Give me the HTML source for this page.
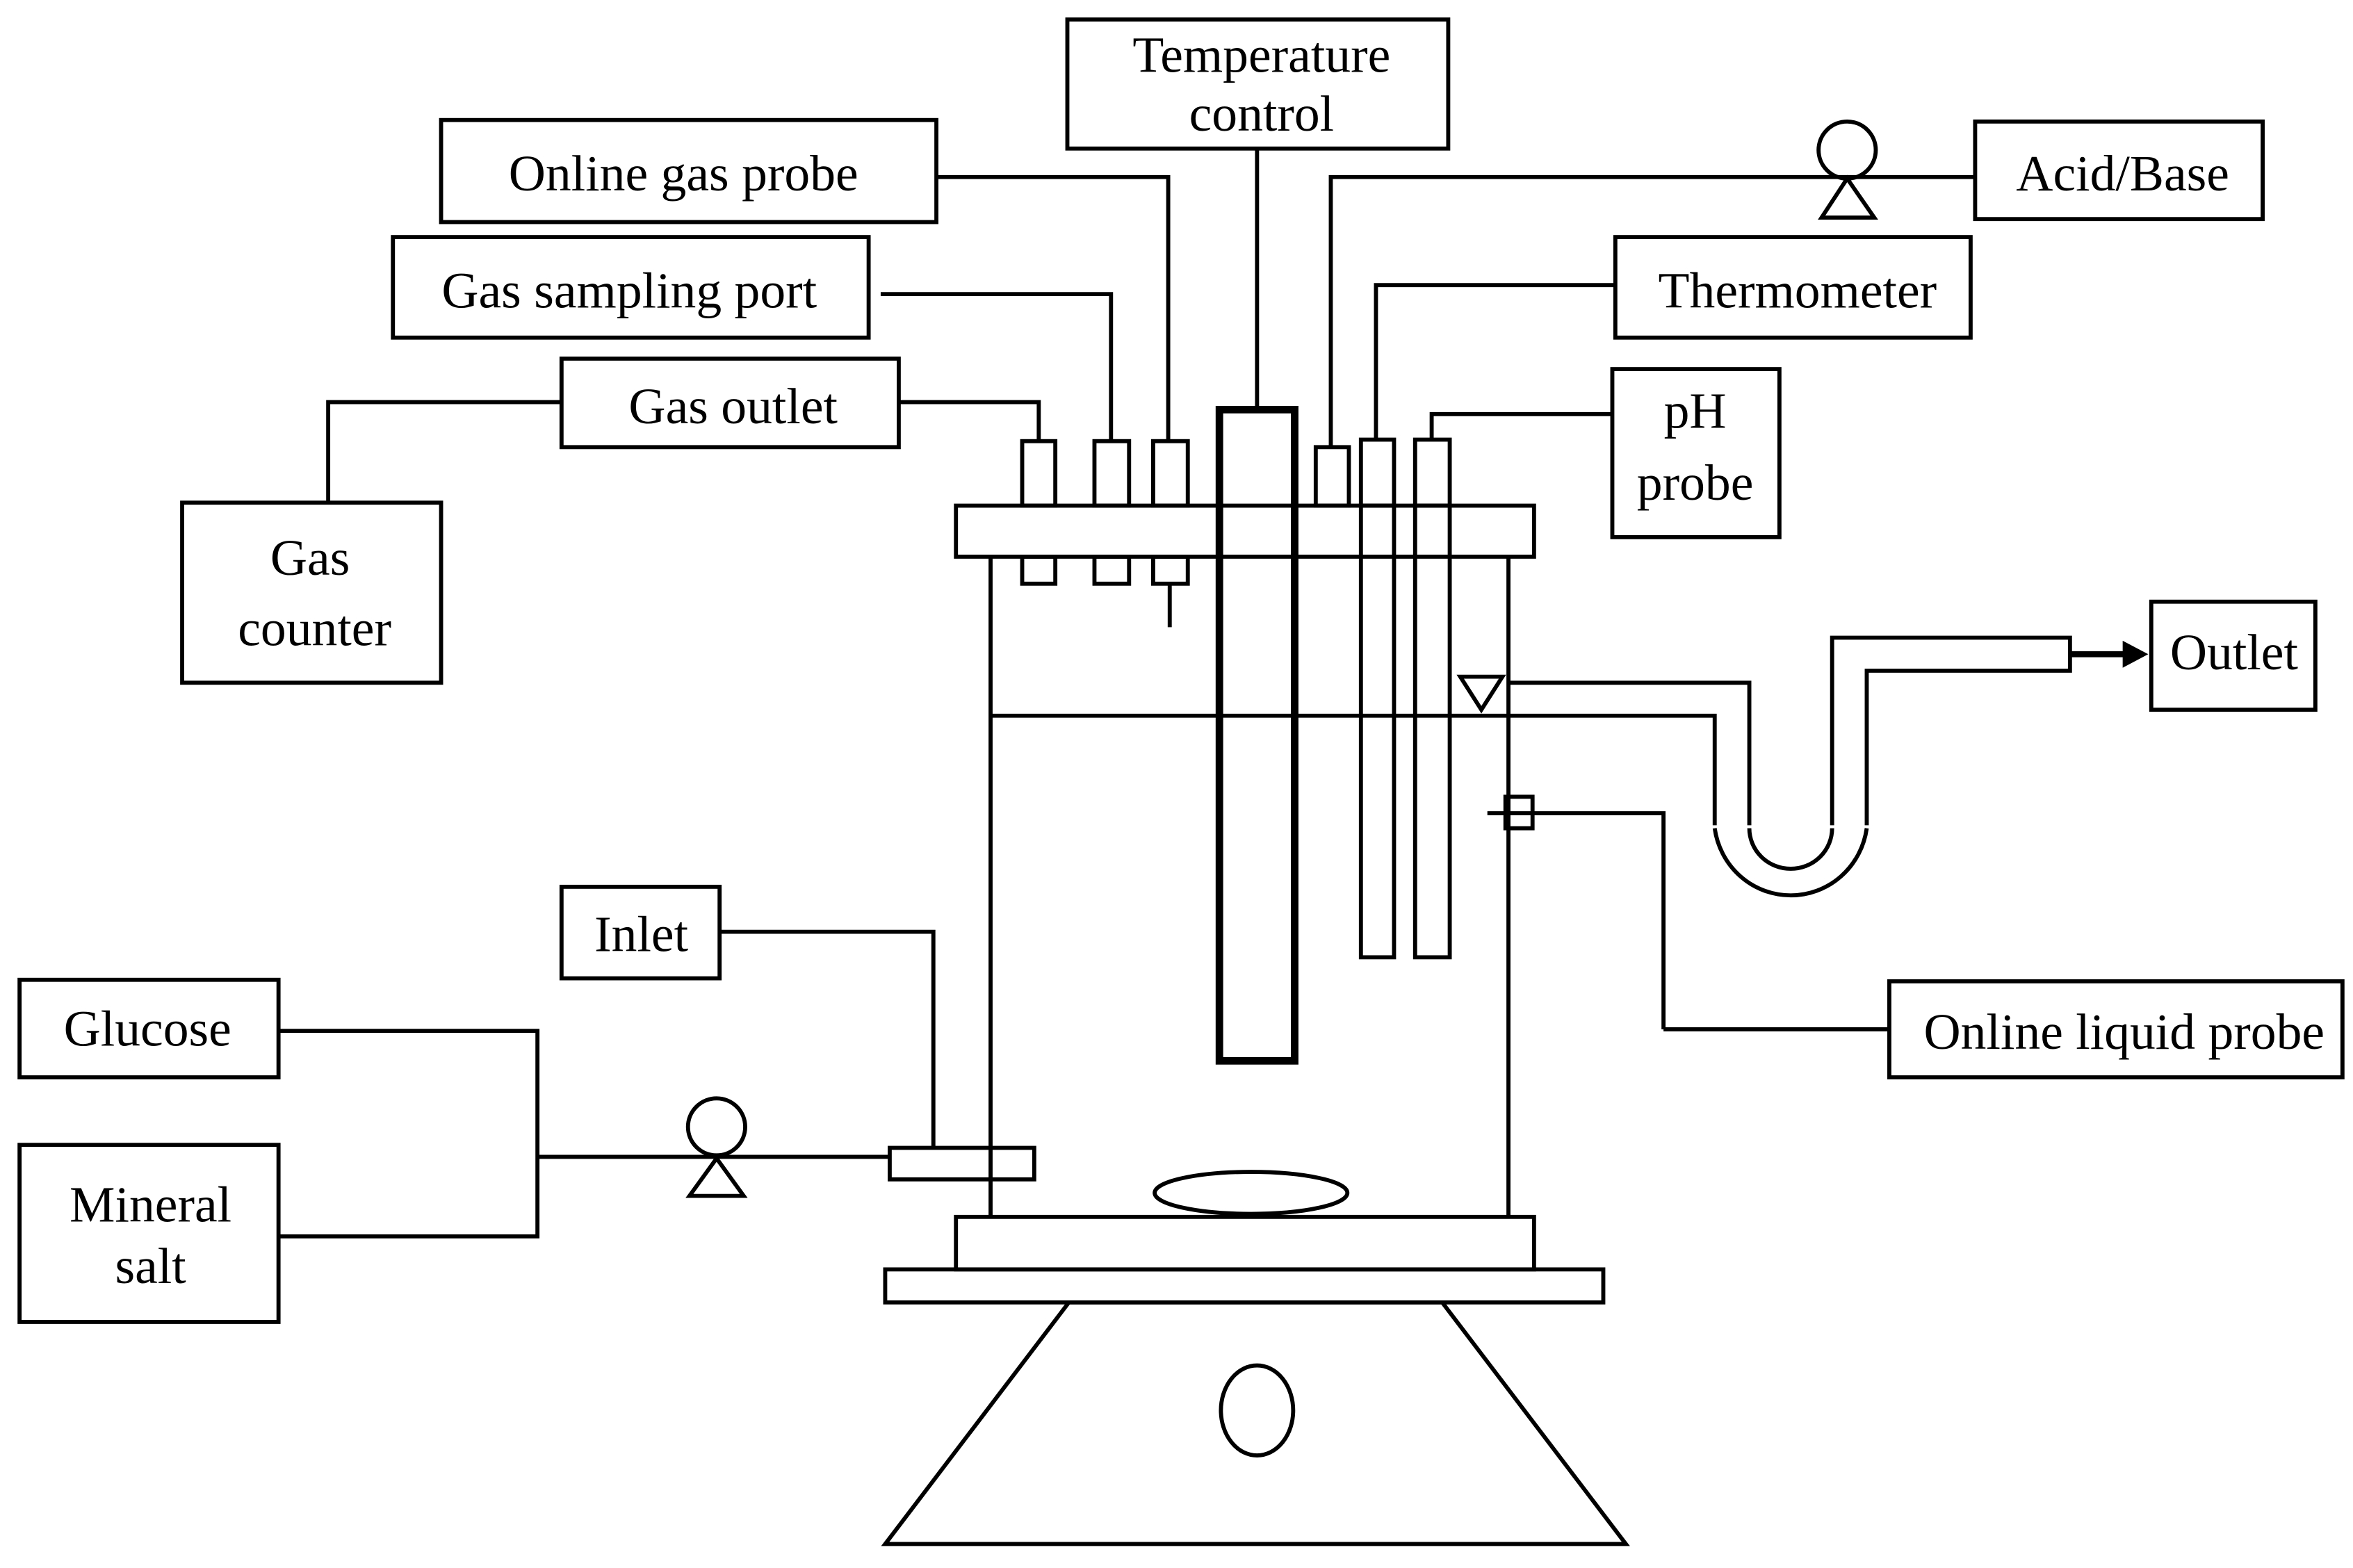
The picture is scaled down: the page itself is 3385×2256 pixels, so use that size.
<!DOCTYPE html>
<html><head><meta charset="utf-8"><style>html,body{margin:0;padding:0;background:#fff}svg{display:block}</style></head><body>
<svg width="3385" height="2256" viewBox="0 0 1563 1045" preserveAspectRatio="none" xmlns="http://www.w3.org/2000/svg">
<g fill="none" stroke="#000" stroke-width="2.7">
<rect x="709" y="13" width="253" height="86"/>
<rect x="293" y="80" width="329" height="68"/>
<rect x="261" y="158" width="316" height="67"/>
<rect x="373" y="239" width="224" height="59"/>
<rect x="121" y="335" width="172" height="120"/>
<rect x="1312" y="81" width="191" height="65"/>
<rect x="1073" y="158" width="236" height="67"/>
<rect x="1071" y="246" width="111" height="112"/>
<rect x="1429" y="401" width="109" height="72"/>
<rect x="1255" y="654" width="301" height="64"/>
<rect x="373" y="591" width="105" height="61"/>
<rect x="13" y="653" width="172" height="65"/>
<rect x="13" y="763" width="172" height="118"/>
<polyline points="622,118 776,118 776,294"/>
<polyline points="585,196 738,196 738,294"/>
<polyline points="597,268 690,268 690,294"/>
<polyline points="373,268 218,268 218,335"/>
<polyline points="1312,118 884,118 884,298"/>
<polyline points="1073,190 914,190 914,293"/>
<polyline points="1071,276 951,276 951,293"/>
<line x1="835" y1="99" x2="835" y2="273"/>
<rect x="635" y="337" width="384" height="34"/>
<rect x="679" y="294" width="22" height="43"/>
<rect x="727" y="294" width="23" height="43"/>
<rect x="766" y="294" width="23" height="43"/>
<rect x="874" y="298" width="22" height="39"/>
<rect x="904" y="293" width="22" height="44"/>
<rect x="940" y="293" width="23" height="44"/>
<rect x="679" y="371" width="22" height="18"/>
<rect x="727" y="371" width="23" height="18"/>
<rect x="766" y="371" width="23" height="18"/>
<line x1="777" y1="389" x2="777" y2="418"/>
<rect x="810" y="273" width="50" height="434" stroke-width="5"/>
<rect x="904" y="337" width="22" height="301"/>
<rect x="940" y="337" width="23" height="301"/>
<line x1="658" y1="371" x2="658" y2="811"/>
<line x1="1002" y1="371" x2="1002" y2="811"/>
<line x1="658" y1="477" x2="1002" y2="477"/>
<polygon points="970,451 998,451 984,473"/>
<polyline points="1002,455 1162,455 1162,550"/>
<polyline points="1002,477 1139,477 1139,550"/>
<path d="M1139,552 A51,52 0 0 0 1240,552"/>
<path d="M1162,552 A27.5,27 0 0 0 1217,552"/>
<polyline points="1217,550 1217,425 1375,425 1375,447 1240,447 1240,550"/>
<line x1="1375" y1="436" x2="1412" y2="436" stroke-width="4"/>
<polyline points="1105,686 1255,686"/>
<polyline points="1105,686 1105,542 988,542"/>
<rect x="1000" y="531" width="18" height="21"/>
<polyline points="478,621 620,621 620,765"/>
<rect x="591" y="765" width="96" height="21"/>
<polyline points="185,687 357,687 357,824 185,824"/>
<line x1="357" y1="771" x2="591" y2="771"/>
<circle cx="476" cy="751" r="19"/>
<polygon points="476,772 458,797 494,797"/>
<circle cx="1227" cy="100" r="19"/>
<polygon points="1227,119 1210,145 1245,145"/>
<ellipse cx="831" cy="795" rx="64" ry="14"/>
<rect x="635" y="811" width="384" height="35"/>
<rect x="588" y="846" width="477" height="22"/>
<polygon points="710,868 958,868 1080,1029 588,1029"/>
<ellipse cx="835" cy="940" rx="24" ry="30"/>
</g>
<polygon points="1410,427 1427,436 1410,445" fill="#000"/>
<g font-family="Liberation Serif, serif" font-size="34" fill="#000" text-anchor="middle">
<text x="838" y="48">Temperature</text>
<text x="838" y="87">control</text>
<text x="454" y="127">Online gas probe</text>
<text x="418" y="205">Gas sampling port</text>
<text x="487" y="282">Gas outlet</text>
<text x="206" y="383">Gas</text>
<text x="209" y="430">counter</text>
<text x="1410" y="127">Acid/Base</text>
<text x="1194" y="205">Thermometer</text>
<text x="1126" y="285">pH</text>
<text x="1126" y="333">probe</text>
<text x="1484" y="446">Outlet</text>
<text x="1411" y="699">Online liquid probe</text>
<text x="426" y="634">Inlet</text>
<text x="98" y="697">Glucose</text>
<text x="100" y="814">Mineral</text>
<text x="100" y="855">salt</text>
</g>
</svg>
</body></html>
